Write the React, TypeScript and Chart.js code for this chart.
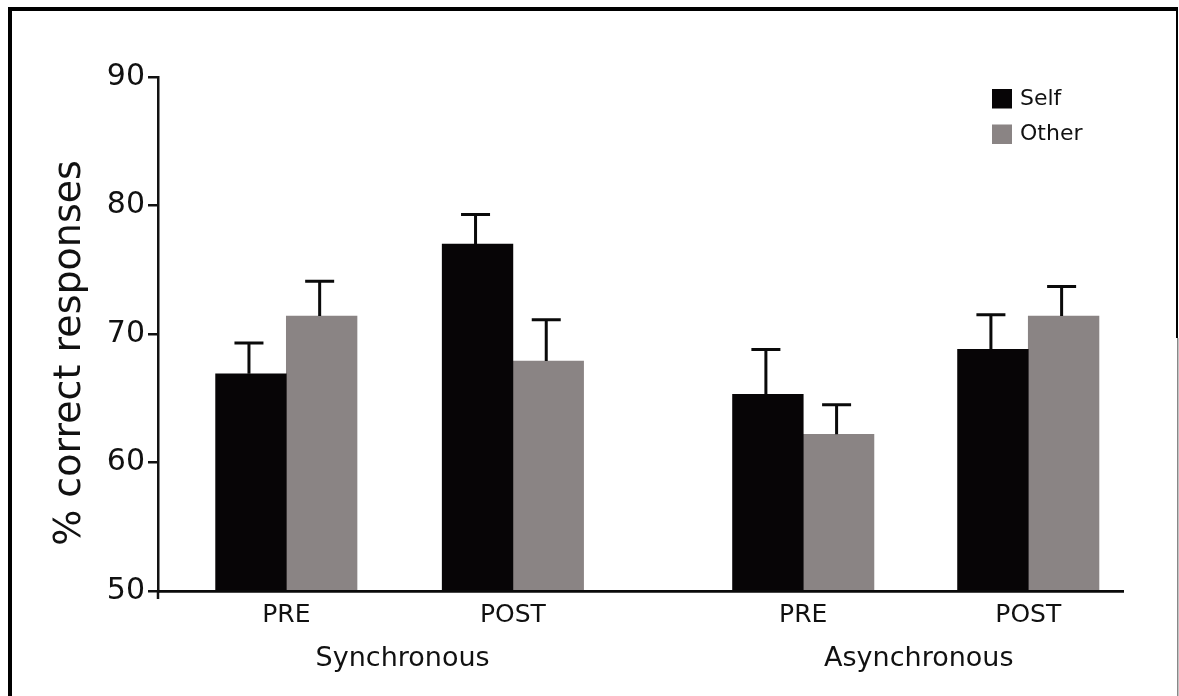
import React, { useEffect, useRef } from 'react';
import { Chart, registerables } from 'chart.js';

Chart.register(...registerables);

// ---- data ----
const conditions = ['Synchronous', 'Asynchronous'];
const phases = ['PRE', 'POST', 'PRE', 'POST'];
// position of each PRE/POST group along the x axis (in bar-width units)
const groupPositions = [1.815, 5.02, 9.127, 12.31];
const axisLength = 13.65;
const conditionGroups = [
  [0, 1],
  [2, 3],
];
const seriesLabels = ['Self', 'Other'];
const seriesColors = ['#070506', '#8a8484'];
const selfValues = [66.9, 77.0, 65.3, 68.8];
const selfErrors = [2.4, 2.3, 3.5, 2.7];
const otherValues = [71.4, 67.9, 62.2, 71.4];
const otherErrors = [2.7, 3.2, 2.3, 2.3];
const yTicks = [50, 60, 70, 80, 90];
const yTitle = '% correct responses';

const FONT = "'DejaVu Sans', Verdana, sans-serif";
const INK = '#111111';

const decorPlugin = {
  id: 'decor',
  afterDatasetsDraw(chart: any) {
    const ctx = chart.ctx;
    const y = chart.scales.y;
    chart.data.datasets.forEach((ds: any, di: number) => {
      const meta = chart.getDatasetMeta(di);
      meta.data.forEach((bar: any, i: number) => {
        const v = ds.data[i].y;
        const e = ds.errors[i];
        const top = y.getPixelForValue(v + e);
        ctx.save();
        ctx.strokeStyle = '#0a0a0a';
        ctx.lineWidth = 3;
        ctx.beginPath();
        ctx.moveTo(bar.x - 2, bar.y);
        ctx.lineTo(bar.x - 2, top);
        ctx.moveTo(bar.x - 16.5, top);
        ctx.lineTo(bar.x + 12.5, top);
        ctx.stroke();
        ctx.restore();
      });
    });
  },
  afterDraw(chart: any) {
    const ctx = chart.ctx;
    const x = chart.scales.x;
    const area = chart.chartArea;
    ctx.save();
    // y axis extends a little below the x axis
    ctx.strokeStyle = INK;
    ctx.lineWidth = 2.5;
    ctx.beginPath();
    ctx.moveTo(area.left, area.bottom);
    ctx.lineTo(area.left, area.bottom + 8);
    ctx.stroke();

    // condition labels
    ctx.fillStyle = INK;
    ctx.font = `27px ${FONT}`;
    ctx.textAlign = 'center';
    ctx.textBaseline = 'alphabetic';
    conditionGroups.forEach((g, ci) => {
      const mid = (groupPositions[g[0]] + groupPositions[g[1]]) / 2;
      ctx.fillText(conditions[ci], x.getPixelForValue(mid) + 3, 666);
    });

    // y axis title
    ctx.save();
    ctx.translate(80, 353);
    ctx.rotate(-Math.PI / 2);
    ctx.font = `38px ${FONT}`;
    ctx.textAlign = 'center';
    ctx.textBaseline = 'alphabetic';
    ctx.fillText(yTitle, 0, 0);
    ctx.restore();

    // legend
    ctx.font = `22px ${FONT}`;
    ctx.textAlign = 'left';
    ctx.textBaseline = 'middle';
    seriesLabels.forEach((lab, i) => {
      const top = 89 + i * 35.5;
      ctx.fillStyle = seriesColors[i];
      ctx.fillRect(992, top, 20, 19.5);
      ctx.fillStyle = INK;
      ctx.fillText(lab, 1020, top + 10);
    });

    // frame
    ctx.fillStyle = '#000';
    ctx.fillRect(8, 7, 4, 696);
    ctx.fillRect(8, 7, 1170, 4);
    ctx.fillRect(1176, 7, 2, 331);
    ctx.fillStyle = '#888';
    ctx.fillRect(1177, 338, 1.5, 360);
    ctx.restore();
  },
};

export default function App() {
  const ref = useRef<HTMLCanvasElement | null>(null);

  useEffect(() => {
    if (!ref.current) return;
    const makeData = (vals: number[]) => vals.map((v, i) => ({ x: groupPositions[i], y: v }));
    const chart = new Chart(ref.current, {
      type: 'bar',
      data: {
        datasets: [
          {
            label: seriesLabels[0],
            data: makeData(selfValues),
            errors: selfErrors,
            backgroundColor: seriesColors[0],
            borderWidth: 0,
            base: yTicks[0],
          } as any,
          {
            label: seriesLabels[1],
            data: makeData(otherValues),
            errors: otherErrors,
            backgroundColor: seriesColors[1],
            borderWidth: 0,
            base: yTicks[0],
          } as any,
        ],
      },
      options: {
        animation: false,
        responsive: true,
        maintainAspectRatio: false,
        layout: { padding: { top: 77, right: 56, left: 0, bottom: 0 } },
        datasets: { bar: { barThickness: 70.7, grouped: true } } as any,
        plugins: {
          legend: { display: false },
          tooltip: { enabled: false },
        },
        scales: {
          x: {
            type: 'linear',
            offset: false,
            min: 0,
            max: axisLength,
            afterBuildTicks: (s: any) => {
              s.ticks = groupPositions.map((v) => ({ value: v }));
            },
            afterFit: (s: any) => {
              s.height = 105;
            },
            grid: { display: false },
            border: { display: true, color: '#0a0a0a', width: 2.7 },
            ticks: {
              callback: (_v: any, i: number) => phases[i],
              font: { family: FONT, size: 25, lineHeight: 1.2 },
              color: INK,
              padding: 1,
              autoSkip: false,
              maxRotation: 0,
            },
          },
          y: {
            type: 'linear',
            min: yTicks[0],
            max: yTicks[yTicks.length - 1],
            afterBuildTicks: (s: any) => {
              s.ticks = yTicks.map((v) => ({ value: v }));
            },
            afterFit: (s: any) => {
              s.width = 158;
            },
            grid: {
              drawOnChartArea: false,
              drawTicks: true,
              tickLength: 10,
              color: INK,
              lineWidth: 2.5,
            },
            border: { display: true, color: INK, width: 2.5 },
            ticks: {
              font: { family: FONT, size: 30, lineHeight: 1.2 },
              color: INK,
              padding: 3,
            },
          },
        },
      },
      plugins: [decorPlugin],
    } as any);
    return () => chart.destroy();
  }, []);

  return (
    <div style={{ position: 'fixed', left: 0, top: 0, width: 1179, height: 696, background: '#fff' }}>
      <canvas ref={ref} />
    </div>
  );
}
